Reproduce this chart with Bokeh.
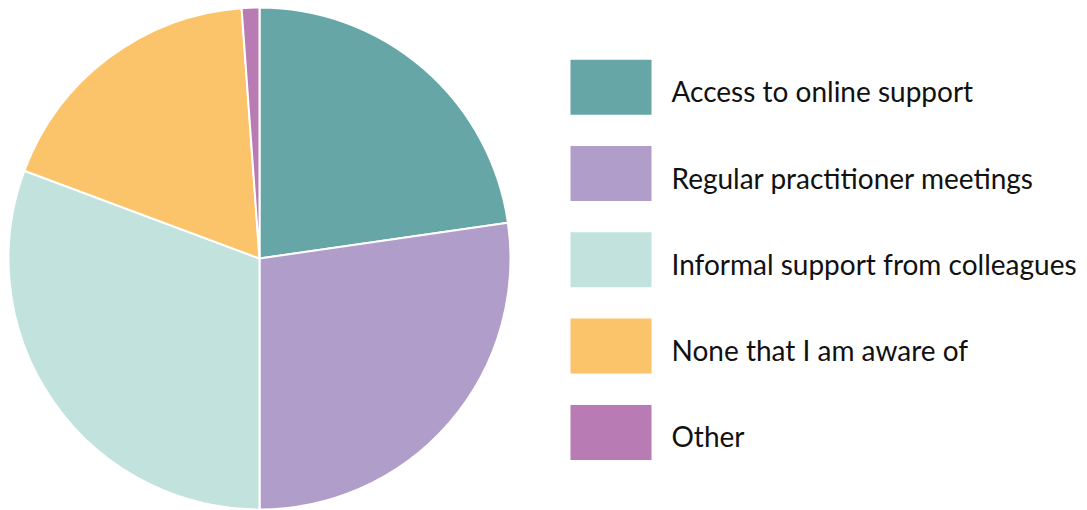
from bokeh.plotting import figure
from bokeh.models import Range1d, ColumnDataSource
from bokeh.core.properties import value
from bokeh.embed import file_html
from bokeh.resources import INLINE
import numpy as np

categories = ["Access to online support", "Regular practitioner meetings",
              "Informal support from colleagues", "None that I am aware of", "Other"]
counts = [20, 24, 27, 16, 1]
colors = ["#67a6a6", "#b09dc9", "#c2e2dd", "#fbc46b", "#b87bb3"]

W, H = 1087, 510
p = figure(width=W, height=H, output_backend="svg", toolbar_location=None,
           x_range=Range1d(0, W), y_range=Range1d(0, H),
           min_border=0, outline_line_color=None)
p.axis.visible = False
p.grid.visible = False
p.background_fill_color = "white"
p.border_fill_color = "white"

vals = np.array(counts, dtype=float)
frac = vals / vals.sum()
ends = np.pi / 2 - 2 * np.pi * np.cumsum(frac)
starts = np.concatenate([[np.pi / 2], ends[:-1]])

# y measured upward from bottom: y = H - pixel_row
cx, cy, r = 259, H - 258, 251
src = ColumnDataSource(dict(start=starts, end=ends, color=colors))
p.wedge(x=cx, y=cy, radius=r, start_angle="start", end_angle="end",
        direction="clock", fill_color="color", line_color="white", line_width=2,
        source=src)

n = len(categories)
box_y = H - (86.7 + 86.3 * np.arange(n))
lsrc = ColumnDataSource(dict(y=box_y, ty=box_y - 4, color=colors, label=categories))
p.rect(x=610.5, y="y", width=81, height=55, fill_color="color", line_color=None, source=lsrc)
p.text(x=671, y="ty", text="label", source=lsrc, text_font=value("Lato"),
       text_font_size="28px", text_baseline="alphabetic", text_align="left",
       text_color="#111111")

open("out.html", "w").write(file_html(p, INLINE))
